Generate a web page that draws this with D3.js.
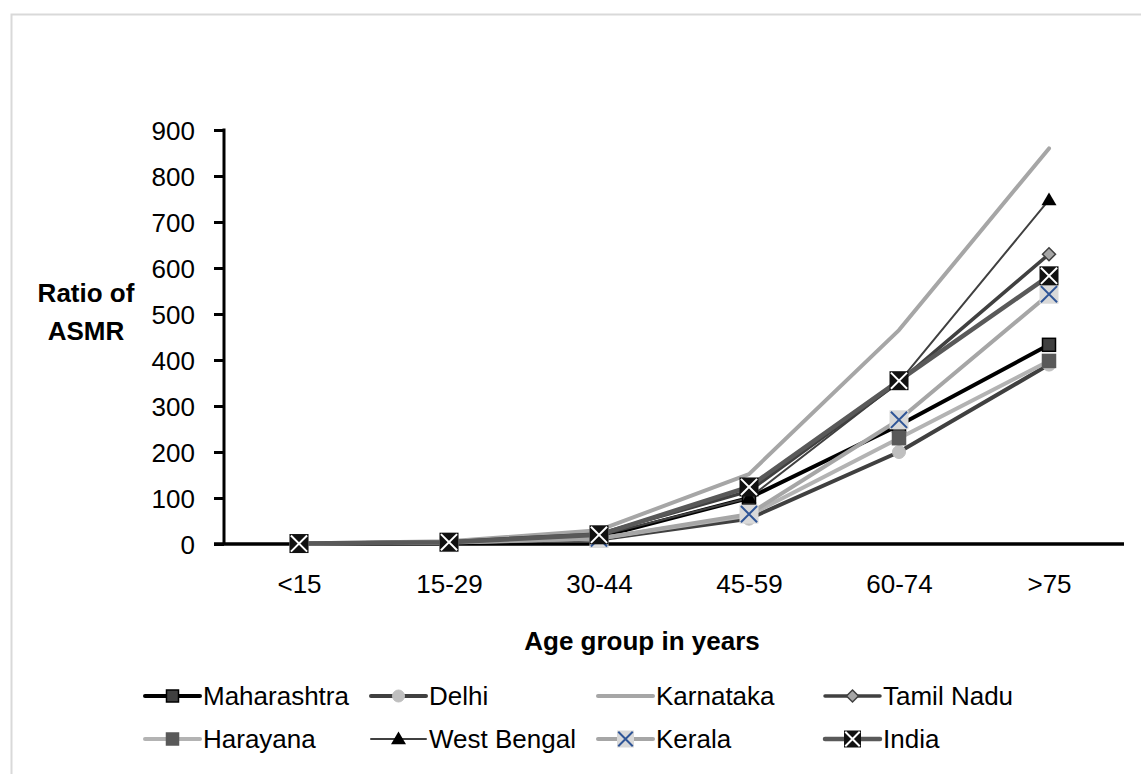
<!DOCTYPE html>
<html>
<head>
<meta charset="utf-8">
<script src="https://cdn.jsdelivr.net/npm/d3@7"></script>
<style>
body { margin: 0; background: #fff; }
text { font-family: "Liberation Sans", Arial, sans-serif; fill: #000; }
</style>
</head>
<body>
<div id="chart"></div>
<script>
// age groups on the x axis
let ageGroups = ["<15", "15-29", "30-44", "45-59", "60-74", ">75"];
let yTicks = [0, 100, 200, 300, 400, 500, 600, 700, 800, 900];

// ratio of ASMR per state
let maharashtra = [1, 4, 15, 100, 258, 433];
let delhi       = [1, 3, 10, 55, 200, 390];
let karnataka   = [1, 6, 30, 152, 465, 860];
let tamilNadu   = [1, 5, 22, 115, 352, 630];
let harayana    = [1, 4, 12, 62, 230, 398];
let westBengal  = [1, 4, 18, 100, 352, 748];
let kerala      = [1, 3, 12, 65, 270, 543];
let india       = [1, 4, 20, 124, 355, 583];

let series = [
	{name: "Maharashtra", values: maharashtra, line: "#000", width: 4, marker: "square", fill: "#404040", stroke: "#000"},
	{name: "Delhi", values: delhi, line: "#404040", width: 4, marker: "circle", fill: "#bfbfbf", stroke: "#bfbfbf"},
	{name: "Karnataka", values: karnataka, line: "#a6a6a6", width: 4, marker: "none"},
	{name: "Tamil Nadu", values: tamilNadu, line: "#404040", width: 3.5, marker: "diamond", fill: "#a6a6a6", stroke: "#404040"},
	{name: "Harayana", values: harayana, line: "#b3b3b3", width: 4, marker: "square", fill: "#595959", stroke: "#595959"},
	{name: "West Bengal", values: westBengal, line: "#404040", width: 2, marker: "triangle", fill: "#000", stroke: "#000"},
	{name: "Kerala", values: kerala, line: "#a6a6a6", width: 4, marker: "xbox", fill: "#d9d9d9", stroke: "#2f5597"},
	{name: "India", values: india, line: "#595959", width: 4.5, marker: "xblack", fill: "#111", stroke: "#fff"}
];

let W = 1141, H = 774;
let plotLeft = 224, plotRight = 1124, plotTop = 130, plotBottom = 544;
let fontSize = "26px";

let svg = d3.select("#chart").append("svg")
	.attr("width", W)
	.attr("height", H);

// outer frame
svg.append("rect")
	.attr("x", 11.5).attr("y", 14.5)
	.attr("width", W + 20).attr("height", H + 20)
	.style("fill", "none")
	.style("stroke", "#d9d9d9")
	.style("stroke-width", 2);

let x = d3.scalePoint().domain(ageGroups).range([plotLeft, plotRight]).padding(0.5);
let y = d3.scaleLinear().domain([0, 900]).range([plotBottom, plotTop]);

// y axis
let yAxis = svg.append("g")
	.attr("transform", "translate(" + plotLeft + ",0)")
	.call(d3.axisLeft(y).tickValues(yTicks).tickSize(10).tickPadding(19));
yAxis.select(".domain").remove();
yAxis.selectAll(".tick line").style("stroke", "#000").style("stroke-width", 3);
yAxis.selectAll(".tick text")
	.style("font-size", fontSize)
	.style("font-family", "Liberation Sans, Arial, sans-serif")
	.attr("dy", ".36em");
svg.append("line")
	.attr("x1", plotLeft).attr("x2", plotLeft)
	.attr("y1", plotTop - 1.5).attr("y2", plotBottom)
	.style("stroke", "#000").style("stroke-width", 3);

// x axis
let xAxis = svg.append("g")
	.attr("transform", "translate(0," + plotBottom + ")")
	.call(d3.axisBottom(x).tickSize(0).tickPadding(0));
xAxis.select(".domain").remove();
xAxis.selectAll(".tick text")
	.style("font-size", fontSize)
	.style("font-family", "Liberation Sans, Arial, sans-serif")
	.attr("y", 49)
	.attr("dy", 0);
svg.append("line")
	.attr("x1", plotLeft - 10).attr("x2", plotRight)
	.attr("y1", plotBottom).attr("y2", plotBottom)
	.style("stroke", "#000").style("stroke-width", 3.5);

// axis titles
svg.append("text")
	.attr("text-anchor", "middle")
	.style("font-size", fontSize).style("font-weight", "bold")
	.selectAll("tspan")
	.data(["Ratio of", "ASMR"])
	.enter().append("tspan")
	.attr("x", 86)
	.attr("y", function(d, i) { return 302 + i * 38; })
	.text(function(d) { return d; });

svg.append("text")
	.attr("x", 642).attr("y", 650)
	.attr("text-anchor", "middle")
	.style("font-size", fontSize).style("font-weight", "bold")
	.text("Age group in years");

function drawMarker(g, s, cx, cy, size) {
	let h = size / 2;
	if (s.marker == "square") {
		g.append("rect")
			.attr("x", cx - h).attr("y", cy - h).attr("width", size).attr("height", size)
			.style("fill", s.fill).style("stroke", s.stroke).style("stroke-width", 1.5);
	} else if (s.marker == "circle") {
		g.append("circle")
			.attr("cx", cx).attr("cy", cy).attr("r", h)
			.style("fill", s.fill).style("stroke", s.stroke);
	} else if (s.marker == "diamond") {
		g.append("path")
			.attr("d", "M" + cx + "," + (cy - h) + "L" + (cx + h) + "," + cy + "L" + cx + "," + (cy + h) + "L" + (cx - h) + "," + cy + "Z")
			.style("fill", s.fill).style("stroke", s.stroke).style("stroke-width", 1.5);
	} else if (s.marker == "triangle") {
		g.append("path")
			.attr("d", "M" + cx + "," + (cy - h) + "L" + (cx + h) + "," + (cy + h * 0.7) + "L" + (cx - h) + "," + (cy + h * 0.7) + "Z")
			.style("fill", s.fill);
	} else if (s.marker == "xbox" || s.marker == "xblack") {
		g.append("rect")
			.attr("x", cx - h).attr("y", cy - h).attr("width", size).attr("height", size)
			.style("fill", s.fill);
		let k = h * 0.85;
		g.append("path")
			.attr("d", "M" + (cx - k) + "," + (cy - k) + "L" + (cx + k) + "," + (cy + k) + "M" + (cx + k) + "," + (cy - k) + "L" + (cx - k) + "," + (cy + k))
			.style("stroke", s.stroke).style("stroke-width", 2);
	}
}

let line = d3.line()
	.x(function(d, i) { return x(ageGroups[i]); })
	.y(function(d) { return y(d); });

// lines first, then markers on top
let plot = svg.append("g");
series.forEach(function(s) {
	plot.append("path")
		.datum(s.values)
		.attr("d", line)
		.style("fill", "none")
		.style("stroke", s.line)
		.style("stroke-width", s.width)
		.style("stroke-linejoin", "round")
		.style("stroke-linecap", "round");
});
series.forEach(function(s) {
	let g = plot.append("g");
	s.values.forEach(function(v, i) {
		let size = s.marker == "xbox" || s.marker == "xblack" ? 19 : (s.marker == "triangle" ? 15 : 13);
		drawMarker(g, s, x(ageGroups[i]), y(v), size);
	});
});

// legend, 4 columns x 2 rows
let legendCols = [145, 371, 598, 825];
let legendRows = [696, 739];
series.forEach(function(s, i) {
	let lx = legendCols[i % 4], ly = legendRows[Math.floor(i / 4)];
	let g = svg.append("g");
	g.append("line")
		.attr("x1", lx).attr("x2", lx + 55)
		.attr("y1", ly).attr("y2", ly)
		.style("stroke", s.line)
		.style("stroke-width", s.width)
		.style("stroke-linecap", "round");
	let size = s.marker == "xbox" || s.marker == "xblack" ? 17 : (s.marker == "triangle" ? 15 : 12);
	drawMarker(g, s, lx + 27.5, ly, size);
	g.append("text")
		.attr("x", lx + 58).attr("y", ly + 9)
		.style("font-size", fontSize)
		.text(s.name);
});
</script>
</body>
</html>
